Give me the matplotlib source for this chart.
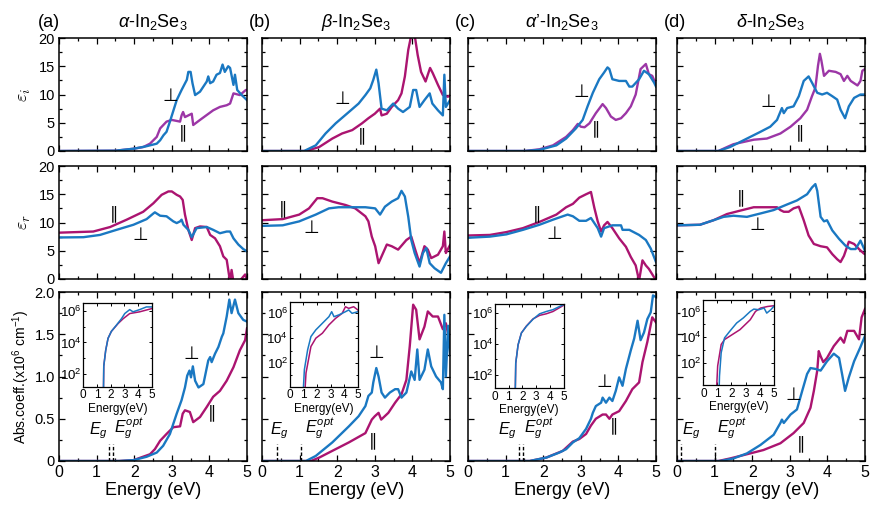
import numpy as np
import matplotlib
matplotlib.use("Agg")
import matplotlib.pyplot as plt
from matplotlib.ticker import MultipleLocator, FixedLocator, NullFormatter

plt.rcParams['font.family'] = ['Liberation Sans', 'DejaVu Sans']
plt.rcParams['mathtext.fontset'] = 'custom'
plt.rcParams['mathtext.rm'] = 'Liberation Sans'
plt.rcParams['mathtext.it'] = 'Liberation Sans:italic'
plt.rcParams['mathtext.bf'] = 'Liberation Sans:bold'

# ---------------- data ----------------
titles = [r"$\alpha$-In$_2$Se$_3$", r"$\beta$-In$_2$Se$_3$",
          r"$\alpha$’-In$_2$Se$_3$", r"$\delta$-In$_2$Se$_3$"]
panel_tags = ["(a)", "(b)", "(c)", "(d)"]

# imaginary part eps_i
a_ei_perp_E = [0, 1.5, 1.98, 2.3, 2.6, 2.69, 2.78, 2.86, 2.95, 3.13, 3.26, 3.4, 3.44, 3.5, 3.55, 3.62, 3.75, 3.93, 3.97, 4.02, 4.1, 4.19, 4.28, 4.35, 4.41, 4.5, 4.55, 4.64, 4.68, 4.74, 4.86, 5.0]
a_ei_perp = [0, 0.05, 0.4, 0.8, 1.3, 1.9, 2.8, 3.4, 5.2, 9.0, 10.8, 12.6, 14.0, 14.0, 12.0, 9.9, 10.5, 12.3, 13.2, 12.0, 12.3, 13.5, 13.8, 15.3, 14.0, 15.0, 14.7, 11.7, 13.5, 10.8, 9.9, 9.0]
a_ei_par_E = [0, 1.5, 1.98, 2.24, 2.42, 2.6, 2.69, 2.86, 3.0, 3.22, 3.26, 3.3, 3.35, 3.44, 3.53, 3.57, 3.75, 4.1, 4.28, 4.46, 4.55, 4.64, 4.81, 4.97, 5.0]
a_ei_par = [0, 0.05, 0.4, 0.7, 1.3, 2.5, 4.0, 5.2, 5.5, 5.2, 6.3, 6.9, 6.0, 6.3, 6.6, 4.6, 5.5, 7.2, 7.8, 8.1, 8.4, 10.2, 9.9, 10.8, 10.8]

b_ei_perp_E = [0, 1.12, 1.43, 1.69, 1.96, 2.31, 2.57, 2.75, 2.88, 2.96, 3.04, 3.1, 3.18, 3.32, 3.49, 3.62, 3.75, 3.93, 4.02, 4.1, 4.19, 4.32, 4.46, 4.53, 4.68, 4.81, 4.85, 4.89, 5.0]
b_ei_perp = [0, 0, 1.0, 3.1, 4.9, 6.9, 8.4, 9.9, 11.1, 12.6, 14.4, 12.0, 7.5, 7.2, 8.4, 7.5, 6.9, 7.8, 10.8, 10.8, 7.8, 9.0, 10.2, 8.4, 7.2, 6.3, 13.5, 7.8, 9.0]
b_ei_par_E = [0, 1.17, 1.52, 1.87, 2.13, 2.4, 2.66, 2.83, 3.0, 3.14, 3.18, 3.32, 3.45, 3.62, 3.71, 3.8, 3.89, 3.97, 4.06, 4.14, 4.23, 4.35, 4.41, 4.47, 4.54, 4.68, 4.81, 4.94, 5.0]
b_ei_par = [0, 0, 0.7, 2.2, 3.1, 3.7, 4.9, 5.8, 6.6, 7.5, 6.3, 6.6, 7.8, 9.0, 10.2, 13.2, 17.9, 20.5, 20.5, 17.0, 14.0, 12.3, 13.5, 14.7, 13.8, 11.7, 9.9, 9.6, 9.8]

c_ei_perp_E = [0, 1.5, 1.9, 2.35, 2.61, 2.87, 3.05, 3.18, 3.32, 3.49, 3.62, 3.71, 3.76, 3.84, 4.02, 4.2, 4.29, 4.37, 4.55, 4.68, 4.81, 4.95, 5.0]
c_ei_perp = [0, 0, 0.2, 1.0, 2.2, 4.0, 5.5, 7.9, 10.3, 12.7, 13.9, 14.8, 14.5, 12.7, 12.4, 12.4, 11.4, 11.4, 12.7, 14.2, 13.6, 12.1, 11.4]
c_ei_par_E = [0, 1.5, 1.9, 2.26, 2.61, 2.79, 2.92, 3.0, 3.1, 3.23, 3.4, 3.58, 3.67, 3.8, 3.93, 4.07, 4.2, 4.33, 4.46, 4.59, 4.73, 4.81, 4.9, 5.0]
c_ei_par = [0, 0, 0.3, 1.0, 2.5, 3.7, 4.8, 4.3, 4.2, 4.9, 6.7, 8.3, 7.6, 6.1, 5.5, 5.8, 6.7, 7.9, 10.0, 14.5, 15.4, 13.6, 13.3, 11.8]

d_ei_perp_E = [0, 1.1, 1.41, 1.68, 1.95, 2.22, 2.48, 2.66, 2.79, 2.84, 2.93, 3.1, 3.24, 3.37, 3.5, 3.59, 3.73, 3.86, 3.99, 4.13, 4.26, 4.35, 4.47, 4.57, 4.71, 4.88, 5.0]
d_ei_perp = [0, 0, 0.7, 1.6, 2.5, 3.4, 4.3, 5.5, 7.6, 6.7, 7.6, 7.9, 9.7, 12.4, 13.2, 12.1, 10.3, 10.0, 10.3, 9.7, 9.1, 7.3, 5.8, 7.9, 9.4, 10.0, 10.0]
d_ei_par_E = [0, 1.1, 1.33, 1.5, 1.77, 2.04, 2.39, 2.75, 3.02, 3.28, 3.46, 3.59, 3.68, 3.75, 3.8, 3.84, 3.91, 4.04, 4.22, 4.35, 4.44, 4.53, 4.62, 4.8, 4.88, 4.93, 5.0]
d_ei_par = [0, 0, 0.7, 1.2, 1.6, 2.0, 2.2, 3.1, 4.3, 5.8, 7.3, 9.7, 11.2, 15.1, 17.2, 16.0, 13.3, 14.2, 14.0, 13.6, 12.4, 13.3, 12.4, 11.6, 12.4, 14.2, 14.5]

# real part eps_r
a_er_perp_E = [0, 0.65, 1.09, 1.53, 1.98, 2.33, 2.51, 2.55, 2.69, 2.86, 3.04, 3.13, 3.22, 3.26, 3.31, 3.44, 3.53, 3.66, 3.93, 4.1, 4.28, 4.46, 4.55, 4.64, 4.77, 4.9, 5.0]
a_er_perp = [7.35, 7.4, 7.8, 8.7, 9.6, 10.6, 11.6, 11.8, 11.2, 11.1, 10.2, 9.9, 10.2, 10.5, 9.6, 8.7, 7.4, 9.0, 9.2, 8.7, 8.1, 8.4, 8.4, 7.2, 6.1, 5.3, 4.9]
a_er_par_E = [0, 0.91, 1.36, 1.8, 2.24, 2.51, 2.73, 2.91, 3.0, 3.13, 3.22, 3.29, 3.35, 3.44, 3.53, 3.62, 3.75, 3.93, 4.02, 4.15, 4.28, 4.37, 4.46, 4.55, 4.59, 4.64, 4.81, 4.95, 5.0]
a_er_par = [8.2, 8.4, 9.2, 10.5, 11.9, 13.4, 14.9, 15.5, 15.5, 14.9, 14.6, 14.0, 11.4, 8.7, 6.9, 9.0, 9.3, 9.2, 7.8, 7.2, 5.8, 4.0, 3.4, -0.5, 1.6, -0.5, -0.3, 0.8, -0.2]

b_er_perp_E = [0, 0.55, 0.99, 1.43, 1.78, 2.04, 2.39, 2.75, 3.01, 3.14, 3.27, 3.45, 3.62, 3.71, 3.8, 3.89, 3.97, 4.06, 4.19, 4.28, 4.37, 4.46, 4.59, 4.76, 4.89, 5.0]
b_er_perp = [9.4, 9.5, 10.2, 11.4, 12.5, 12.7, 12.7, 12.7, 12.5, 11.4, 12.8, 13.7, 14.3, 15.6, 14.6, 11.0, 6.9, 4.6, 2.2, 4.6, 5.5, 2.8, 1.9, 1.1, 2.8, 4.0]
b_er_par_E = [0, 0.55, 0.99, 1.25, 1.47, 1.61, 1.87, 2.22, 2.48, 2.75, 2.83, 2.92, 3.01, 3.1, 3.18, 3.32, 3.45, 3.62, 3.84, 3.97, 4.06, 4.19, 4.32, 4.41, 4.5, 4.68, 4.81, 4.85, 4.89, 5.0]
b_er_par = [10.4, 10.6, 11.4, 12.5, 14.3, 14.3, 13.7, 13.1, 12.5, 11.1, 10.2, 7.5, 5.8, 2.8, 4.0, 6.1, 5.8, 5.2, 6.9, 7.5, 5.5, 2.8, 5.8, 5.2, 3.7, 4.3, 5.8, 8.4, 4.6, 6.0]

c_er_perp_E = [0, 0.58, 1.02, 1.46, 1.9, 2.26, 2.52, 2.65, 2.79, 2.96, 3.14, 3.27, 3.36, 3.45, 3.54, 3.62, 3.84, 4.07, 4.11, 4.29, 4.55, 4.73, 4.86, 5.0]
c_er_perp = [7.3, 7.5, 7.9, 8.7, 9.6, 10.5, 11.1, 11.4, 11.1, 10.3, 10.3, 10.8, 9.9, 9.0, 7.5, 9.0, 9.5, 9.5, 8.7, 8.7, 7.8, 6.9, 5.4, 3.0]
c_er_par_E = [0, 0.58, 1.02, 1.46, 1.9, 2.35, 2.61, 2.79, 2.96, 3.14, 3.27, 3.36, 3.45, 3.54, 3.62, 3.71, 3.84, 4.02, 4.2, 4.33, 4.46, 4.55, 4.64, 4.73, 4.81, 4.95, 5.0]
c_er_par = [7.7, 7.8, 8.3, 9.0, 10.1, 11.4, 12.7, 13.3, 14.4, 15.0, 15.4, 12.6, 10.2, 8.4, 9.5, 10.1, 9.0, 7.2, 5.7, 3.9, 2.4, -0.3, 3.3, 2.4, 1.8, 0.3, -0.2]

d_er_perp_E = [0, 0.61, 0.97, 1.24, 1.5, 1.86, 2.22, 2.57, 2.93, 3.19, 3.46, 3.59, 3.68, 3.73, 3.82, 3.91, 3.99, 4.13, 4.31, 4.48, 4.62, 4.75, 4.88, 4.96, 5.0]
d_er_perp = [9.5, 9.6, 10.4, 11.0, 11.2, 11.0, 11.6, 12.2, 13.2, 13.9, 15.0, 16.2, 16.8, 15.6, 11.0, 10.2, 10.4, 8.6, 7.1, 5.9, 5.3, 5.3, 6.8, 5.6, 5.0]
d_er_par_E = [0, 0.61, 0.97, 1.33, 1.68, 2.04, 2.39, 2.66, 2.75, 2.84, 2.97, 3.1, 3.24, 3.37, 3.5, 3.64, 3.82, 3.99, 4.13, 4.26, 4.35, 4.44, 4.57, 4.71, 4.84, 4.97, 5.0]
d_er_par = [9.5, 9.6, 10.4, 11.5, 12.1, 12.7, 12.7, 12.7, 12.2, 11.9, 11.9, 12.5, 12.8, 10.4, 7.7, 6.2, 5.8, 5.6, 4.4, 3.5, 3.0, 4.1, 6.6, 6.2, 5.3, 4.5, 4.4]

# absorption coefficient (x10^6 cm^-1)
a_abs_perp_E = [0, 1.6, 1.98, 2.33, 2.6, 2.77, 2.95, 3.13, 3.26, 3.35, 3.41, 3.47, 3.51, 3.56, 3.62, 3.71, 3.84, 3.97, 4.02, 4.06, 4.15, 4.24, 4.33, 4.37, 4.46, 4.53, 4.59, 4.68, 4.77, 4.9, 5.0]
a_abs_perp = [0, 0, 0.01, 0.05, 0.1, 0.18, 0.32, 0.56, 0.72, 0.87, 1.01, 1.07, 0.99, 1.12, 0.95, 0.87, 0.91, 1.19, 1.23, 1.17, 1.27, 1.35, 1.47, 1.51, 1.71, 1.91, 1.75, 1.91, 1.75, 1.67, 1.65]
a_abs_par_E = [0, 1.6, 1.98, 2.42, 2.55, 2.69, 2.86, 3.04, 3.22, 3.29, 3.35, 3.48, 3.57, 3.75, 3.93, 4.1, 4.28, 4.46, 4.64, 4.81, 4.95, 5.0]
a_abs_par = [0, 0, 0.01, 0.08, 0.14, 0.24, 0.32, 0.4, 0.41, 0.56, 0.6, 0.58, 0.46, 0.52, 0.64, 0.76, 0.83, 0.95, 1.11, 1.31, 1.43, 1.57]

b_abs_perp_E = [0, 1.17, 1.43, 1.87, 2.31, 2.57, 2.75, 2.83, 2.92, 2.96, 3.04, 3.1, 3.18, 3.27, 3.4, 3.54, 3.62, 3.71, 3.84, 3.97, 4.06, 4.13, 4.19, 4.32, 4.41, 4.5, 4.63, 4.76, 4.81, 4.85, 4.89, 4.95, 5.0]
b_abs_perp = [0, 0, 0.06, 0.22, 0.41, 0.53, 0.65, 0.77, 0.81, 0.93, 1.1, 1.0, 0.81, 0.75, 0.81, 0.85, 0.85, 0.75, 0.81, 1.06, 0.96, 1.32, 0.96, 1.08, 1.32, 1.12, 1.0, 0.93, 0.85, 1.73, 1.0, 1.6, 1.25]
b_abs_par_E = [0, 1.3, 1.52, 1.87, 2.31, 2.75, 2.92, 3.0, 3.1, 3.17, 3.36, 3.54, 3.71, 3.84, 3.93, 4.02, 4.1, 4.19, 4.32, 4.41, 4.54, 4.68, 4.81, 4.89, 5.0]
b_abs_par = [0, 0, 0.04, 0.12, 0.22, 0.33, 0.49, 0.53, 0.57, 0.49, 0.57, 0.69, 0.79, 0.96, 1.36, 1.85, 1.79, 1.44, 1.59, 1.77, 1.71, 1.71, 1.56, 1.63, 1.4]

c_abs_perp_E = [0, 1.64, 2.08, 2.43, 2.61, 2.79, 2.96, 3.14, 3.27, 3.32, 3.4, 3.54, 3.58, 3.67, 3.76, 3.84, 3.93, 4.02, 4.11, 4.2, 4.33, 4.42, 4.51, 4.59, 4.68, 4.77, 4.86, 4.92, 5.0]
c_abs_perp = [0, 0, 0.04, 0.1, 0.14, 0.22, 0.27, 0.38, 0.5, 0.57, 0.65, 0.69, 0.75, 0.69, 0.75, 0.71, 0.83, 0.99, 0.89, 1.09, 1.31, 1.45, 1.66, 1.43, 1.52, 1.68, 1.76, 1.96, 1.94]
c_abs_par_E = [0, 1.64, 2.08, 2.52, 2.79, 2.96, 3.14, 3.27, 3.4, 3.58, 3.67, 3.76, 3.84, 4.02, 4.2, 4.37, 4.55, 4.64, 4.77, 4.9, 5.0]
c_abs_par = [0, 0, 0.04, 0.12, 0.23, 0.26, 0.32, 0.42, 0.5, 0.55, 0.55, 0.5, 0.55, 0.59, 0.71, 0.85, 0.93, 1.17, 1.41, 1.7, 1.64]

d_abs_perp_E = [0, 1.15, 1.5, 1.86, 2.22, 2.57, 2.75, 2.79, 2.84, 3.02, 3.19, 3.33, 3.46, 3.55, 3.68, 3.82, 3.99, 4.17, 4.31, 4.39, 4.47, 4.57, 4.71, 4.87, 5.0]
d_abs_perp = [0, 0, 0.03, 0.09, 0.19, 0.31, 0.45, 0.49, 0.45, 0.55, 0.61, 0.83, 1.03, 1.1, 1.09, 1.07, 1.18, 1.27, 1.22, 1.03, 0.83, 0.99, 1.18, 1.34, 1.48]
d_abs_par_E = [0, 1.1, 1.41, 1.86, 2.3, 2.75, 3.1, 3.37, 3.55, 3.64, 3.73, 3.77, 3.82, 3.89, 3.99, 4.17, 4.35, 4.44, 4.53, 4.71, 4.84, 4.91, 5.0]
d_abs_par = [0, 0, 0.03, 0.08, 0.13, 0.21, 0.33, 0.45, 0.63, 0.83, 1.07, 1.3, 1.24, 1.17, 1.22, 1.36, 1.46, 1.4, 1.54, 1.54, 1.44, 1.7, 1.8]

# insets: log10 of absorption coefficient (cm^-1)
a_in_perp_E = [1.45, 1.5, 1.64, 1.81, 2.05, 2.42, 2.78, 3.02, 3.38, 3.62, 4.1, 4.59, 5.0]
a_in_perp = [-1, 2.5, 3.5, 4.26, 4.7, 5.1, 5.5, 5.83, 6.08, 5.94, 6.08, 6.25, 6.25]
a_in_par_E = [1.45, 1.5, 1.64, 1.81, 2.05, 2.54, 2.9, 3.38, 4.1, 5.0]
a_in_par = [-1, 2.5, 3.5, 4.26, 4.7, 5.2, 5.5, 5.83, 5.94, 6.15]

b_in_perp_E = [0.96, 1.08, 1.32, 1.56, 1.92, 2.4, 2.88, 3.08, 3.25, 3.6, 4.09, 4.33, 4.57, 5.0]
b_in_perp = [-1, 1.47, 3.07, 4.13, 4.67, 5.2, 5.73, 6.13, 5.73, 5.87, 6.13, 6.27, 6.0, 6.13]
b_in_par_E = [1.08, 1.2, 1.56, 1.92, 2.4, 2.88, 3.37, 3.85, 4.09, 4.33, 4.69, 5.0]
b_in_par = [-1, 1.2, 3.33, 4.0, 4.4, 5.07, 5.6, 6.0, 6.53, 6.4, 6.53, 6.27]

c_in_perp_E = [1.45, 1.52, 1.69, 1.93, 2.29, 2.78, 3.26, 3.74, 4.23, 5.0]
c_in_perp = [-1, 2.74, 3.93, 4.7, 5.13, 5.6, 5.95, 6.1, 6.22, 6.55]
c_in_par_E = [1.45, 1.52, 1.69, 1.93, 2.29, 2.78, 3.26, 3.74, 4.23, 5.0]
c_in_par = [-1, 2.74, 3.93, 4.7, 5.15, 5.62, 5.85, 5.95, 6.1, 6.5]

d_in_perp_E = [1.1, 1.15, 1.27, 1.51, 1.88, 2.37, 2.85, 3.34, 3.59, 3.95, 4.32, 4.51, 4.8, 5.0]
d_in_perp = [-1, 1.0, 2.8, 3.95, 4.46, 5.1, 5.5, 6.0, 6.18, 6.13, 6.26, 5.87, 6.13, 6.38]
d_in_par_E = [0.9, 1.02, 1.27, 1.51, 1.88, 2.61, 3.34, 3.71, 4.07, 4.56, 5.0]
d_in_par = [-1, 1.77, 3.44, 3.82, 4.08, 4.59, 5.36, 6.0, 6.26, 6.38, 6.44]

# band gaps (eV): fundamental and optical
eg = [1.34, 0.39, 1.35, 0.11]
eg_opt = [1.43, 1.05, 1.45, 1.02]

# ---------------- layout / style ----------------
blue = '#1a78c2'
magenta = '#ab1470'
purple = '#9c36a6'
lw = 1.7

col_left = [59, 262, 468, 677]
col_width = 188
row_top = [38, 166, 292]
row_height = [113, 113, 169]
W, H = 886, 508

# colour of the parallel curve in the top row
top_par_color = [purple, magenta, purple, purple]

# label positions (E, value) for perp / parallel markers
lab_ei = [((2.95, 9.8), (3.3, 3.4)), ((2.13, 9.2), (2.66, 2.8)),
          ((3.0, 10.4), (3.4, 4.0)), ((2.44, 8.6), (3.27, 3.4))]
lab_er = [((2.15, 7.8), (1.45, 11.6)), ((1.3, 9.0), (0.55, 12.5)),
          ((2.3, 7.9), (1.84, 11.6)), ((2.13, 9.5), (1.71, 14.4))]
lab_abs = [((3.53, 1.27), (4.06, 0.58)), ((3.05, 1.28), (2.96, 0.24)),
           ((3.62, 0.93), (3.87, 0.42)), ((3.1, 0.78), (3.31, 0.21))]

# gap label text: (x of E_g text, ha, x of E_g^opt text)
gap_text = [(1.3, 'right', 1.46), (0.2, 'left', 1.15),
            (1.31, 'right', 1.48), (0.13, 'left', 1.06)]

inset_rect = [[0.128, 0.44, 0.367, 0.495], [0.147, 0.44, 0.363, 0.50],
              [0.143, 0.43, 0.365, 0.50], [0.140, 0.45, 0.374, 0.50]]
inset_ylim = [(1.2, 6.5), (0.1, 6.9), (1.1, 6.6), (0.3, 6.85)]

ei_data = [(a_ei_perp_E, a_ei_perp, a_ei_par_E, a_ei_par),
           (b_ei_perp_E, b_ei_perp, b_ei_par_E, b_ei_par),
           (c_ei_perp_E, c_ei_perp, c_ei_par_E, c_ei_par),
           (d_ei_perp_E, d_ei_perp, d_ei_par_E, d_ei_par)]
er_data = [(a_er_perp_E, a_er_perp, a_er_par_E, a_er_par),
           (b_er_perp_E, b_er_perp, b_er_par_E, b_er_par),
           (c_er_perp_E, c_er_perp, c_er_par_E, c_er_par),
           (d_er_perp_E, d_er_perp, d_er_par_E, d_er_par)]
abs_data = [(a_abs_perp_E, a_abs_perp, a_abs_par_E, a_abs_par),
            (b_abs_perp_E, b_abs_perp, b_abs_par_E, b_abs_par),
            (c_abs_perp_E, c_abs_perp, c_abs_par_E, c_abs_par),
            (d_abs_perp_E, d_abs_perp, d_abs_par_E, d_abs_par)]
in_data = [(a_in_perp_E, a_in_perp, a_in_par_E, a_in_par),
           (b_in_perp_E, b_in_perp, b_in_par_E, b_in_par),
           (c_in_perp_E, c_in_perp, c_in_par_E, c_in_par),
           (d_in_perp_E, d_in_perp, d_in_par_E, d_in_par)]

PERP = "⊥"
PAR = "∥"


def style_axes(ax, ymajor, yminor):
    ax.set_xlim(0, 5)
    ax.xaxis.set_major_locator(MultipleLocator(1))
    ax.xaxis.set_minor_locator(MultipleLocator(0.5))
    ax.yaxis.set_major_locator(MultipleLocator(ymajor))
    ax.yaxis.set_minor_locator(MultipleLocator(yminor))
    ax.tick_params(which='both', direction='in', top=True, right=True,
                   labelsize=10.5, width=0.9, pad=3)
    ax.tick_params(which='major', length=4)
    ax.tick_params(which='minor', length=2.2)
    for s in ax.spines.values():
        s.set_linewidth(1.1)


def mark(ax, pos):
    # perpendicular / parallel markers next to the curves
    (px, py), (qx, qy) = pos
    ax.text(px, py, PERP, fontsize=13, ha='center', va='center',
            family=['DejaVu Sans'])
    ax.text(qx, qy, PAR, fontsize=12, ha='center', va='center',
            family=['DejaVu Sans'])


fig = plt.figure(figsize=(W / 100, H / 100), dpi=100)

for c in range(4):
    axes = []
    for r in range(3):
        rect = [col_left[c] / W, 1 - (row_top[r] + row_height[r]) / H,
                col_width / W, row_height[r] / H]
        axes.append(fig.add_axes(rect))
    ax1, ax2, ax3 = axes

    # --- eps_i ---
    pe, pv, qe, qv = ei_data[c]
    ax1.plot(qe, qv, color=top_par_color[c], lw=lw)
    ax1.plot(pe, pv, color=blue, lw=lw)
    style_axes(ax1, 5, 2.5)
    ax1.set_ylim(0, 20)
    ax1.set_xticklabels([])
    mark(ax1, lab_ei[c])

    # panel tag and title
    ax1.text(-0.115 if c == 0 else -0.07, 1.14, panel_tags[c], transform=ax1.transAxes,
             fontsize=13, ha='left', va='center')
    ax1.text(0.5, 1.14, titles[c], transform=ax1.transAxes,
             fontsize=13, ha='center', va='center')

    # --- eps_r ---
    pe, pv, qe, qv = er_data[c]
    ax2.plot(qe, qv, color=magenta, lw=lw)
    ax2.plot(pe, pv, color=blue, lw=lw)
    style_axes(ax2, 5, 2.5)
    ax2.set_ylim(0, 20)
    ax2.set_xticklabels([])
    mark(ax2, lab_er[c])

    # --- absorption ---
    pe, pv, qe, qv = abs_data[c]
    ax3.plot(qe, qv, color=magenta, lw=lw)
    ax3.plot(pe, pv, color=blue, lw=lw)
    style_axes(ax3, 0.5, 0.25)
    ax3.set_ylim(0, 2.0)
    ax3.set_xticks([0, 1, 2, 3, 4, 5])
    ax3.set_xticklabels(['0', '1', '2', '3', '4', '5'], fontsize=11.5)
    ax3.set_xlabel("Energy (eV)", fontsize=13, labelpad=1)
    mark(ax3, lab_abs[c])

    # band gap markers
    for x in (eg[c], eg_opt[c]):
        ax3.plot([x, x], [0, 0.2], color='k', lw=1, dashes=(2.5, 1.5))
    gx, gha, ox = gap_text[c]
    ax3.text(gx, 0.24, r"$E_g$", fontsize=11.5, ha=gha, va='bottom')
    ax3.text(ox, 0.24, r"$E_g^{opt}$", fontsize=11.5, ha='left', va='bottom')

    # inset on log scale
    ins = ax3.inset_axes(inset_rect[c])
    pe, pv, qe, qv = in_data[c]
    ins.plot(qe, 10 ** np.array(qv), color=magenta, lw=1.1)
    ins.plot(pe, 10 ** np.array(pv), color=blue, lw=1.1)
    ins.set_yscale('log')
    ins.set_xlim(0, 5)
    ins.set_ylim(10 ** inset_ylim[c][0], 10 ** inset_ylim[c][1])
    ins.xaxis.set_major_locator(MultipleLocator(1))
    ins.yaxis.set_major_locator(FixedLocator([1e2, 1e4, 1e6]))
    ins.yaxis.set_minor_locator(FixedLocator([1e1, 1e3, 1e5]))
    ins.yaxis.set_minor_formatter(NullFormatter())
    ins.tick_params(which='both', direction='in', top=True, right=True,
                    labelsize=8.5, width=0.7, pad=2)
    ins.tick_params(axis='y', labelsize=9.5, pad=1)
    ins.tick_params(which='major', length=2.5)
    ins.tick_params(which='minor', length=1.5)
    ins.set_xlabel("Energy(eV)", fontsize=8.5, labelpad=1)
    for s in ins.spines.values():
        s.set_linewidth(0.9)

    if c == 0:
        ax1.set_ylabel(r"$\varepsilon_i$", fontsize=13, math_fontfamily='cm')
        ax2.set_ylabel(r"$\varepsilon_r$", fontsize=13, math_fontfamily='cm')
        ax3.set_ylabel(r"Abs.coeff.(x10$^6$ cm$^{-1}$)", fontsize=10, labelpad=2)
        ax3.set_yticks([0, 0.5, 1.0, 1.5, 2.0])
        ax3.set_yticklabels(['0', '0.5', '1.0', '1.5', '2.0'])
        ax1.set_yticks([0, 5, 10, 15, 20])
        ax2.set_yticks([0, 5, 10, 15, 20])
    else:
        for ax in axes:
            ax.set_yticklabels([])

fig.savefig("out.png", dpi=100)
